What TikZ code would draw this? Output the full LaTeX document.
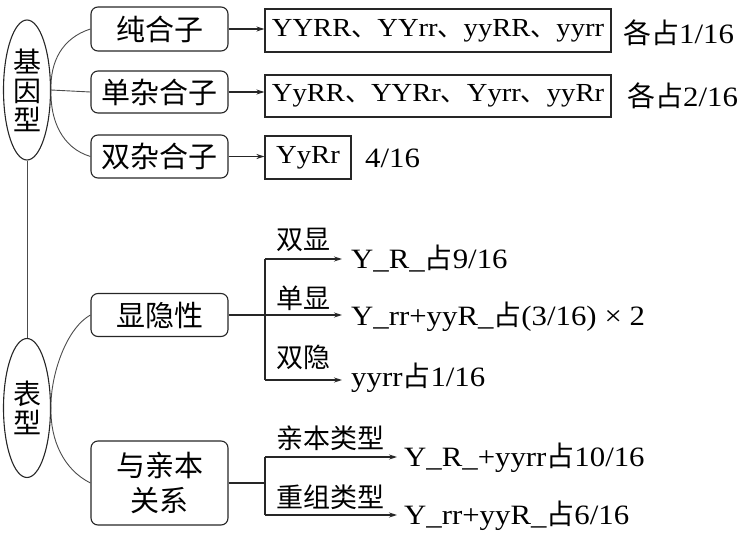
\documentclass[tikz,border=0pt]{standalone}
\usepackage{fontspec}
\setmainfont[FakeStretch=1.1]{Liberation Serif}
\newfontfamily\cjk{Noto Sans CJK SC}
\newcommand\zh[1]{{\cjk #1}}
\usetikzlibrary{arrows.meta,shapes.geometric}
\tikzset{
  ln/.style={line width=1.1pt, draw=black!85},
  conn/.style={line width=0.9pt, draw=black!70},
  arr/.style={ln, -{Stealth[length=8pt,width=5pt]}},
  oval/.style={ellipse, ln, minimum width=47pt, inner sep=0pt, align=center,
    font=\fontsize{28}{29}\selectfont\cjk},
  cat/.style={rectangle, rounded corners=7pt, ln, minimum width=137pt, inner sep=0pt,
    align=center, font=\fontsize{29}{35}\selectfont\cjk},
  res/.style={rectangle, ln, inner sep=0pt, font=\fontsize{26}{28}\selectfont},
  txt/.style={inner sep=0pt, anchor=west, font=\fontsize{28}{30}\selectfont},
  lab/.style={inner sep=0pt, font=\fontsize{27}{28}\selectfont\cjk},
}
\begin{document}
\begin{tikzpicture}[x=1pt,y=-1pt]
\useasboundingbox (0,0) rectangle (752,535);
% genotype
\node[oval, minimum height=140pt] (e1) at (27,90) {基\\因\\型};
\node[cat, minimum height=44pt] (b1) at (159.5,29) {纯合子};
\node[cat, minimum height=42pt] (b2) at (159.5,92) {单杂合子};
\node[cat, minimum height=43pt] (b3) at (159.5,156.5) {双杂合子};
\node[res, minimum width=346pt, minimum height=43pt] (r1) at (438,30.5) {YYRR\zh{、}YYrr\zh{、}yyRR\zh{、}yyrr};
\node[res, minimum width=346pt, minimum height=42pt] (r2) at (438,96) {YyRR\zh{、}YYRr\zh{、}Yyrr\zh{、}yyRr};
\node[res, minimum width=86pt, minimum height=43pt] (r3) at (308,157.5) {YyRr};
\node[txt] (p1) at (623,33) {\zh{各占}1/16};
\node[txt] (p2) at (627,96) {\zh{各占}2/16};
\node[txt] (p3) at (365,158) {4/16};
\draw[arr] (b1.east) -- (b1.east -| r1.west);
\draw[arr] (b2.east) -- (b2.east -| r2.west);
\draw[arr] (b3.east) -- (b3.east -| r3.west);
\draw[conn] (b1.west) .. controls (62,38) and (50,62) .. (e1.east)
  .. controls (50,120) and (62,148) .. (b3.west);
\draw[conn] (e1.east) -- (b2.west);
% phenotype
\node[oval, minimum height=139pt] (e2) at (27,408) {表\\型};
\draw[conn] (e1.south) -- (e2.north);
\node[cat, minimum height=43pt] (b4) at (159.5,315) {显隐性};
\node[cat, minimum height=84pt] (b5) at (159.5,483) {与亲本\\关系};
\draw[conn] (b4.west) .. controls (64,330) and (50,380) .. (e2.east)
  .. controls (50,440) and (64,470) .. (b5.west);
% dominance branch
\coordinate (j1) at (265,259);
\coordinate (j2) at (265,315);
\coordinate (j3) at (265,380);
\coordinate (a1) at (342,259);
\coordinate (a2) at (342,315);
\coordinate (a3) at (342,380);
\draw[ln] (j1) -- (j3);
\draw[ln] (b4.east) -- (j2);
\draw[arr] (j1) -- (a1);
\draw[arr] (j2) -- (a2);
\draw[arr] (j3) -- (a3);
\node[lab] (l1) at (303,240) {双显};
\node[lab] (l2) at (303,298) {单显};
\node[lab] (l3) at (303,357) {双隐};
\node[txt] (t1) at (351,259) {Y\_R\_\zh{占}9/16};
\node[txt] (t2) at (351,317) {Y\_rr+yyR\_\zh{占}(3/16)\;×\;2};
\node[txt] (t3) at (351,378) {yyrr\zh{占}1/16};
% parent relation branch
\coordinate (k1) at (265,457);
\coordinate (k2) at (265,483);
\coordinate (k3) at (265,515);
\coordinate (c1) at (397,457);
\coordinate (c3) at (397,515);
\draw[ln] (k1) -- (k3);
\draw[ln] (b5.east) -- (k2);
\draw[arr] (k1) -- (c1);
\draw[arr] (k3) -- (c3);
\node[lab] (l4) at (330,438) {亲本类型};
\node[lab] (l5) at (330,497) {重组类型};
\node[txt] (t4) at (404,458) {Y\_R\_+yyrr\zh{占}10/16};
\node[txt] (t5) at (404,516) {Y\_rr+yyR\_\zh{占}6/16};
\end{tikzpicture}
\end{document}
